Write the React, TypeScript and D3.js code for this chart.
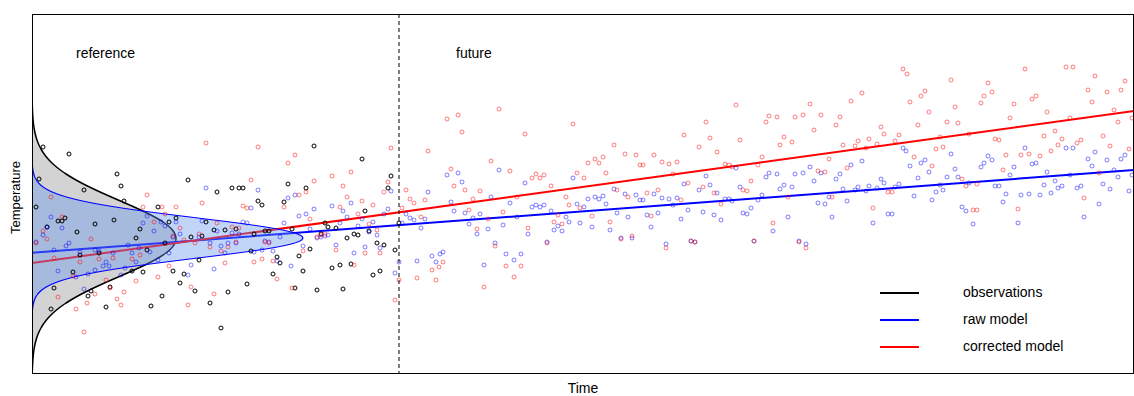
import React from 'react';
import * as d3 from 'd3';

// time in days since start of reference period, temperature in arbitrary units
const observations: [number, number][] = [
[11,226],[37,219],[7,194],[85,199],[89,187],[52,183],[4,166],[33,155],[30,152],[26,152],[63,149],[15,146],[82,153],[45,141],[48,118],[67,120],[41,101],[22,85],[78,86],[56,77],[59,82],[19,64],[74,66],[92,172],
[156,193],[126,166],[137,151],[144,155],[174,151],[108,144],[104,135],[133,130],[115,123],[159,136],[170,137],[167,113],[100,102],[111,101],[141,102],[152,99],[148,90],[163,82],[130,77],[119,67],[178,70],
[182,143],[185,181],[200,185],[207,185],[211,185],[256,189],[226,172],[230,168],[252,171],[193,143],[204,144],[233,142],[237,142],[260,144],[222,139],[219,122],[245,116],[248,110],[267,117],[241,99],[215,89],[263,85],[196,81],[189,45],
[271,102],[274,185],[282,227],[330,214],[359,197],[356,185],[333,162],[293,150],[296,146],[304,145],[289,139],[315,135],[322,139],[326,138],[337,142],[345,130],[352,128],[278,124],[363,123],[300,105],[308,108],[319,109],[348,102],[341,98],[285,83],[311,84],[367,150]
];

const rawModel: [number, number][] = [
[4,131],[19,156],[30,145],[11,138],[15,146],[34,127],[37,130],[22,123],[48,121],[63,123],[67,122],[81,120],[74,111],[77,107],[71,107],[26,102],[56,99],[44,96],[63,103],[89,98],[52,84],
[93,105],[174,185],[115,157],[111,150],[122,142],[129,151],[144,151],[148,139],[133,147],[170,152],[118,121],[96,128],[100,120],[107,125],[137,120],[141,136],[178,130],[167,136],[104,111],[126,113],[159,108],[156,98],
[182,104],[226,183],[219,165],[256,175],[263,178],[252,150],[267,157],[211,151],[215,150],[185,142],[200,140],[207,139],[189,127],[193,120],[196,130],[204,130],[233,132],[237,131],[248,136],[222,121],[230,123],[241,122],[245,112],[259,107],
[271,127],[359,182],[282,164],[300,167],[319,170],[311,162],[274,159],[356,164],[352,159],[315,156],[330,154],[341,151],[308,150],[326,147],[278,144],[345,138],[337,141],[289,136],[285,135],[293,137],[296,138],[304,128],[333,126],[348,125],[322,120],[367,111],[363,100],
[415,198],[426,200],[430,191],[396,181],[419,171],[422,162],[433,160],[448,159],[441,155],[437,149],[378,155],[382,153],[393,154],[374,159],[370,150],[389,145],[445,139],[411,121],[408,119],[400,117],[404,111],[385,112],[452,108],
[467,203],[493,190],[541,195],[459,176],[478,170],[500,166],[504,168],[508,166],[512,168],[519,162],[545,169],[485,156],[534,156],[537,151],[471,148],[456,144],[526,147],[522,143],[530,142],[496,139],[515,131],[463,130],[474,119],[489,119],[482,113],
[582,184],[593,179],[604,178],[622,179],[563,176],[571,177],[556,174],[567,174],[608,173],[611,173],[630,175],[574,169],[552,166],[585,160],[626,160],[615,158],[596,156],[548,150],[560,146],[619,146],[578,143],[589,135],[600,135],[634,129],
[637,174],[704,205],[674,197],[652,189],[678,188],[708,186],[667,183],[685,180],[645,175],[693,174],[697,174],[700,172],[726,173],[641,168],[656,163],[671,161],[719,165],[711,160],[715,159],[682,158],[649,154],[689,153],[659,132],[663,131],[722,132],
[730,178],[778,206],[819,208],[737,200],[745,199],[771,200],[763,199],[789,200],[808,199],[734,196],[804,194],[782,192],[752,188],[760,186],[748,184],[811,184],[797,176],[815,172],[786,170],[793,169],[800,156],[756,156],[741,142],[767,132],[774,129],
[871,225],[874,222],[830,212],[893,213],[889,210],[878,207],[897,201],[849,194],[886,195],[852,190],[867,189],[837,187],[826,186],[863,186],[845,185],[823,183],[834,182],[908,188],[904,181],[911,183],[882,177],[900,173],[856,159],[860,159],[841,150],
[993,225],[919,219],[956,217],[960,213],[952,210],[949,206],[1000,209],[982,206],[923,204],[978,198],[915,196],[926,196],[937,190],[963,187],[967,187],[974,179],[989,178],[997,179],[971,171],[930,166],[934,162],[986,150],[941,149],
[1004,210],[1034,225],[1041,225],[1063,221],[1093,218],[1056,214],[1075,213],[1089,214],[1060,207],[1015,201],[1082,203],[1038,198],[1100,198],[1086,196],[1023,192],[1012,188],[1030,187],[1071,189],[1049,187],[1045,185],[1026,185],[1078,184],[1097,182],[1019,180],[1008,178],[1067,169],[1052,156]
];

const correctedModel: [number, number][] = [
[19,176],[30,156],[4,130],[11,142],[15,134],[59,134],[22,115],[48,111],[67,114],[81,115],[41,97],[74,93],[78,85],[63,79],[26,76],[55,70],[85,74],[89,68],[44,64],[52,41],
[92,81],[174,230],[115,178],[111,166],[130,166],[144,166],[170,170],[122,151],[133,159],[148,145],[141,137],[152,133],[167,139],[163,130],[178,126],[100,114],[108,118],[137,107],[126,96],[104,92],[159,86],[156,68],
[182,79],[226,226],[263,218],[256,210],[219,193],[211,167],[215,165],[252,166],[267,178],[185,150],[200,146],[207,145],[189,122],[196,126],[204,131],[233,131],[237,130],[193,110],[222,111],[230,114],[241,112],[245,94],[260,85],
[271,122],[359,225],[319,201],[300,197],[282,192],[311,187],[356,191],[274,181],[352,181],[315,176],[330,172],[308,166],[341,168],[326,159],[278,154],[337,149],[345,143],[289,138],[285,136],[293,139],[304,123],[333,120],[348,120],[322,108],[367,93],[363,73],
[415,254],[426,258],[430,241],[396,222],[419,204],[374,183],[422,187],[433,183],[448,182],[378,174],[382,170],[393,173],[370,165],[441,174],[437,163],[389,156],[445,144],[411,111],[407,106],[400,103],[385,95],[404,93],[452,86],
[467,264],[493,239],[541,249],[459,212],[478,202],[500,195],[504,199],[508,195],[512,198],[519,187],[545,200],[485,176],[534,176],[537,168],[471,161],[456,154],[526,158],[522,151],[530,149],[496,145],[515,130],[463,127],[474,107],[489,107],[482,96],
[582,228],[593,219],[604,218],[622,218],[563,214],[571,216],[556,210],[567,210],[608,208],[611,208],[630,211],[574,200],[552,195],[585,183],[626,183],[615,180],[596,176],[548,165],[560,157],[619,157],[578,151],[589,134],[600,137],[634,125],
[637,209],[704,268],[674,251],[652,238],[678,235],[708,233],[667,226],[685,221],[645,211],[693,209],[697,208],[700,206],[726,208],[641,199],[656,190],[671,186],[719,192],[711,183],[715,182],[682,180],[649,173],[689,169],[659,132],[663,131],[722,132],
[730,216],[778,269],[819,272],[737,257],[745,256],[771,258],[763,256],[789,258],[808,256],[734,251],[804,248],[782,243],[752,236],[760,231],[748,228],[811,228],[797,214],[815,205],[786,202],[793,201],[800,176],[756,176],[741,150],[767,131],[774,125],
[871,304],[875,299],[830,280],[893,282],[889,277],[878,271],[897,261],[849,246],[886,248],[852,239],[867,238],[837,234],[826,232],[863,232],[845,229],[823,227],[834,225],[908,236],[904,224],[911,226],[882,216],[900,207],[856,181],[860,181],[841,165],
[993,304],[919,293],[956,290],[960,281],[952,277],[949,270],[1000,274],[982,269],[923,266],[978,255],[915,251],[926,250],[937,239],[963,234],[967,233],[974,218],[989,218],[997,219],[971,203],[930,194],[934,187],[945,189],[986,164],[941,163],[945,163],
[1004,277],[1034,306],[1041,306],[1063,297],[1093,292],[1056,283],[1075,281],[1089,283],[1060,271],[1015,261],[1082,263],[1038,255],[1100,255],[1086,251],[1023,242],[1012,237],[1030,234],[1071,237],[1049,233],[1045,230],[1026,228],[1078,227],[1097,224],[1019,222],[1008,217],[1067,200],[1052,175]
];

const rawTrend: [number, number][] = [[0, 120.3], [1102, 203]];
const correctedTrend: [number, number][] = [[0, 110], [1102, 262]];
const obsDistribution = { mean: 134.5, sd: 38 };
const rawDistribution = { mean: 135, sd: 20.2 };
const timeDomain = [0, 1102];
const tempDomain = [0, 359];
const periodBreak = 367;
const periodLabels: [string, number][] = [["reference", 44], ["future", 424]];
const legendLabels = ["observations", "raw model", "corrected model"];
const legendColors = ["black", "blue", "red"];

const W = 1134, H = 396;
const M = { left: 32, right: 0, top: 14, bottom: 23 };
const FONT = "'Liberation Sans', Arial, Helvetica, sans-serif";

export default function App() {
  const x = d3.scaleLinear().domain(timeDomain).range([M.left, W - M.right]);
  const y = d3.scaleLinear().domain(tempDomain).range([H - M.bottom, M.top]);
  // density width scale (density units -> days)
  const dens = d3.scaleLinear().domain([0, 1]).range([0, 13714]);

  const pdf = (v: number, m: number, s: number) =>
    Math.exp(-0.5 * ((v - m) / s) ** 2) / (s * Math.sqrt(2 * Math.PI));

  const densityPath = (dist: { mean: number; sd: number }) => {
    const vs = d3.range(tempDomain[0] - 20, tempDomain[1] + 20, 0.5);
    const pts: [number, number][] = vs.map((v) => [x(dens(pdf(v, dist.mean, dist.sd))), y(v)]);
    const line = d3.line();
    return line([[x(0), y(vs[0])], ...pts, [x(0), y(vs[vs.length - 1])]])! + 'Z';
  };

  const trendLine = d3.line<[number, number]>().x((d) => x(d[0])).y((d) => y(d[1]));

  const left = M.left, top = M.top, right = W - M.right, bottom = H - M.bottom;

  return (
    <svg width={W} height={H} style={{ position: 'absolute', left: 0, top: 0, background: 'white' }} fontFamily={FONT}>
      <defs>
        <clipPath id="plotclip">
          <rect x={left} y={top} width={right - left} height={bottom - top} />
        </clipPath>
      </defs>
      <g clipPath="url(#plotclip)">
        <path d={densityPath(obsDistribution)} fill="#d3d3d3" stroke="black" strokeWidth={1.5} />
        <path d={trendLine(rawTrend)!} fill="none" stroke="blue" strokeWidth={2} />
        <path d={trendLine(correctedTrend)!} fill="none" stroke="red" strokeWidth={2} />
        <path d={densityPath(rawDistribution)} fill="rgba(100,150,240,0.4)" stroke="blue" strokeWidth={1.2} />
        {observations.map((d, i) => (
          <circle key={'o' + i} cx={x(d[0])} cy={y(d[1])} r={2} fill="none" stroke="black" strokeWidth={1} />
        ))}
        {rawModel.map((d, i) => (
          <circle key={'b' + i} cx={x(d[0])} cy={y(d[1])} r={2} fill="none" stroke="rgba(0,0,255,0.5)" strokeWidth={1} />
        ))}
        {correctedModel.map((d, i) => (
          <circle key={'r' + i} cx={x(d[0])} cy={y(d[1])} r={2} fill="none" stroke="rgba(255,0,0,0.5)" strokeWidth={1} />
        ))}
      </g>
      <line x1={x(periodBreak)} x2={x(periodBreak)} y1={top} y2={bottom} stroke="black" strokeWidth={1} strokeDasharray="4,3" />
      <rect x={left + 0.5} y={top + 0.5} width={right - left - 1} height={bottom - top} fill="none" stroke="black" strokeWidth={1} />
      {periodLabels.map(([label, t]) => (
        <text key={label} x={x(t)} y={58} fontSize={14} fill="black">{label}</text>
      ))}
      {legendLabels.map((label, i) => (
        <g key={label}>
          <line x1={880} x2={919} y1={293 + i * 27} y2={293 + i * 27} stroke={legendColors[i]} strokeWidth={2} />
          <text x={963} y={292.5 + i * 27} dy="0.35em" fontSize={14} fill="black">{label}</text>
        </g>
      ))}
      <text x={(left + right) / 2} y={393} textAnchor="middle" fontSize={14} fill="black">Time</text>
      <text transform={`translate(20,${(top + bottom) / 2 + 4}) rotate(-90)`} textAnchor="middle" fontSize={13} fill="black">Temperature</text>
    </svg>
  );
}
